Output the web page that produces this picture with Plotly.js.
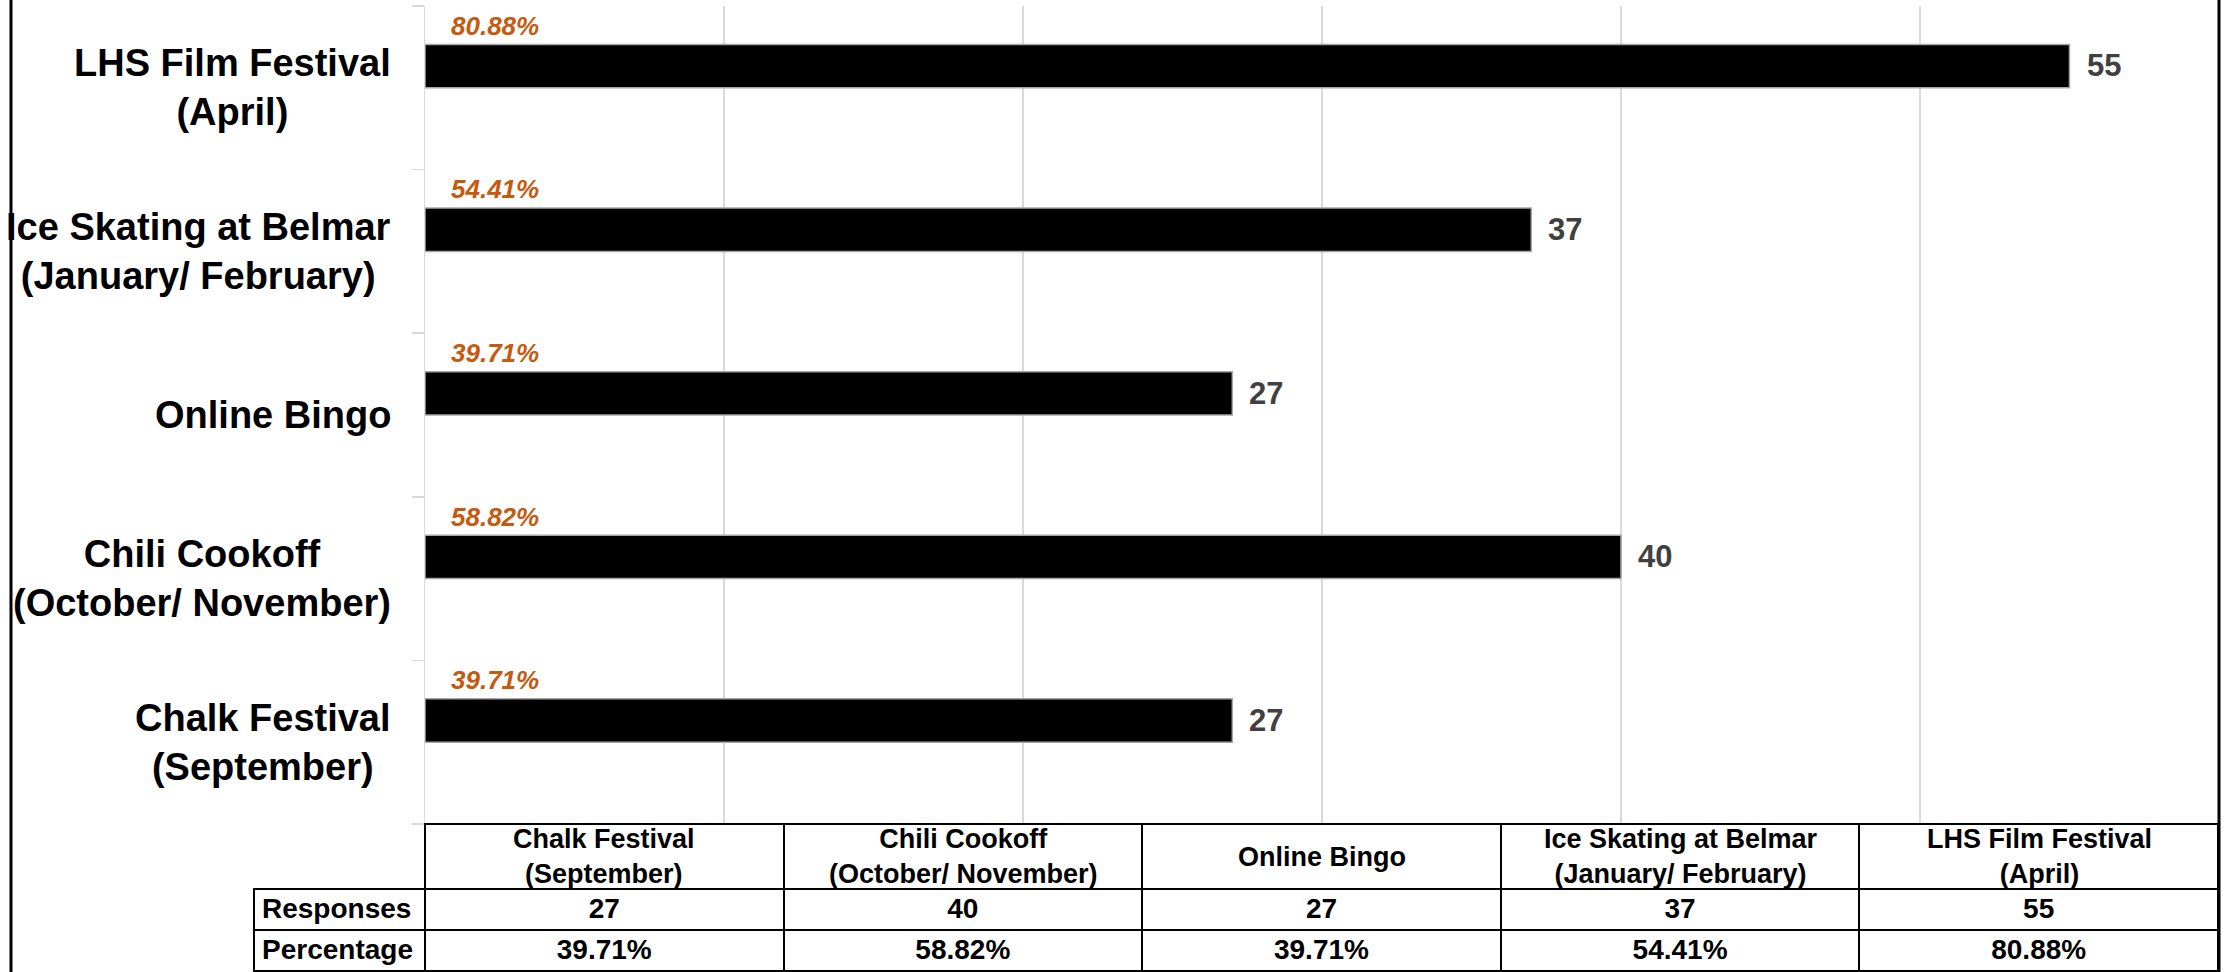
<!DOCTYPE html>
<html>
<head>
<meta charset="utf-8">
<script src="https://cdn.plot.ly/plotly-3.0.1.min.js"></script>
<style>html,body{margin:0;padding:0;background:#fff;}#chart{width:2234px;height:972px;}</style>
</head>
<body>
<div id="chart"></div>
<script>
// ---- data ----
const categories = [
  'Chalk Festival<br>(September)',
  'Chili Cookoff<br>(October/ November)',
  'Online Bingo',
  'Ice Skating at Belmar<br>(January/ February)',
  'LHS Film Festival<br>(April)'
];
const responses = [27, 40, 27, 37, 55];
const percentages = ['39.71%', '58.82%', '39.71%', '54.41%', '80.88%'];
const rowLabels = ['Responses', 'Percentage'];
const xTicks = [0, 10, 20, 30, 40, 50, 60];

// ---- geometry (pixels) ----
const W = 2234, H = 972;
const plotLeft = 425, plotRight = 2219, plotTop = 6, plotBottom = 824;
const tableLeft = 254;
const headerH = 65, rowH = 41;
const frameLeft = 11;
const FONT = 'Liberation Sans, Arial, sans-serif';
const colW = (plotRight - plotLeft) / categories.length;

const barTrace = {
  type: 'bar',
  orientation: 'h',
  y: categories,
  x: responses,
  width: 0.265,
  offset: 0,
  marker: {color: '#000000', line: {color: '#a6a6a6', width: 1.5}},
  hoverinfo: 'x+y',
  xaxis: 'x', yaxis: 'y'
};

const tableTrace = {
  type: 'table',
  domain: {x: [tableLeft / W, plotRight / W], y: [0, (H - plotBottom) / H]},
  columnwidth: [plotLeft - tableLeft].concat(categories.map(() => colW)),
  header: {
    values: [''].concat(categories.map(() => '')),
    align: 'center',
    height: headerH,
    line: {color: ['rgba(0,0,0,0)'].concat(categories.map(() => '#000000')), width: 2},
    fill: {color: ['rgba(0,0,0,0)'].concat(categories.map(() => '#ffffff'))},
    font: {family: FONT, size: 28, color: '#000000', weight: 'bold'}
  },
  cells: {
    values: [rowLabels].concat(categories.map((c, i) => [String(responses[i]), percentages[i]])),
    align: ['left'].concat(categories.map(() => 'center')),
    height: rowH,
    line: {color: '#000000', width: 2},
    fill: {color: '#ffffff'},
    font: {family: FONT, size: 28, color: '#000000', weight: 'bold'}
  }
};

const annotations = [];
categories.forEach((c, i) => {
  // category label (centered multi-line)
  annotations.push({
    xref: 'x', yref: 'y', x: 0, y: c, xanchor: 'right', yanchor: 'middle',
    xshift: -32, text: c, showarrow: false, align: 'center',
    font: {family: FONT, size: 38, color: '#000000', weight: 'bold'}
  });
  // value label
  annotations.push({
    xref: 'x', yref: 'y', x: responses[i], y: c, xanchor: 'left', yanchor: 'middle',
    xshift: 15, yshift: 22, text: String(responses[i]), showarrow: false,
    font: {family: FONT, size: 31, color: '#404040', weight: 'bold'}
  });
  // percentage label
  annotations.push({
    xref: 'x', yref: 'y', x: 0, y: c, xanchor: 'left', yanchor: 'middle',
    xshift: 24, yshift: 62, text: percentages[i], showarrow: false,
    font: {family: FONT, size: 26, color: '#C55A11', weight: 'bold', style: 'italic'}
  });
  // table column header (centered lines)
  annotations.push({
    xref: 'paper', yref: 'paper',
    x: (plotLeft + (i + 0.5) * colW) / W,
    y: 1 - (plotBottom + headerH / 2) / H,
    xanchor: 'center', yanchor: 'middle', align: 'center',
    text: c, showarrow: false,
    font: {family: FONT, size: 27, color: '#000000', weight: 'bold'}
  });
});

const layout = {
  width: W, height: H,
  margin: {l: 0, r: 0, t: 0, b: 0, pad: 0},
  paper_bgcolor: '#ffffff', plot_bgcolor: '#ffffff',
  showlegend: false,
  xaxis: {
    domain: [plotLeft / W, plotRight / W],
    range: [xTicks[0], xTicks[xTicks.length - 1]],
    tickvals: xTicks,
    showticklabels: false,
    showgrid: true, gridcolor: '#d9d9d9', gridwidth: 1.5,
    zeroline: false, showline: false, ticks: '', fixedrange: true
  },
  yaxis: {
    domain: [(H - plotBottom) / H, (H - plotTop) / H],
    type: 'category',
    categoryorder: 'array', categoryarray: categories,
    showticklabels: false,
    showgrid: false, zeroline: false,
    showline: true, linecolor: '#d9d9d9', linewidth: 1.5,
    ticks: 'outside', tickson: 'boundaries', ticklen: 12, tickcolor: '#d9d9d9', tickwidth: 1.5,
    fixedrange: true
  },
  annotations: annotations,
  shapes: [
    {type: 'line', xref: 'paper', yref: 'paper', x0: frameLeft / W, x1: frameLeft / W, y0: 0, y1: 1, line: {color: '#000000', width: 3}},
    {type: 'line', xref: 'paper', yref: 'paper', x0: plotRight / W, x1: plotRight / W, y0: 0, y1: 1, line: {color: '#000000', width: 3}}
  ]
};

Plotly.newPlot('chart', [barTrace, tableTrace], layout, {displayModeBar: false, staticPlot: true});
</script>
</body>
</html>
